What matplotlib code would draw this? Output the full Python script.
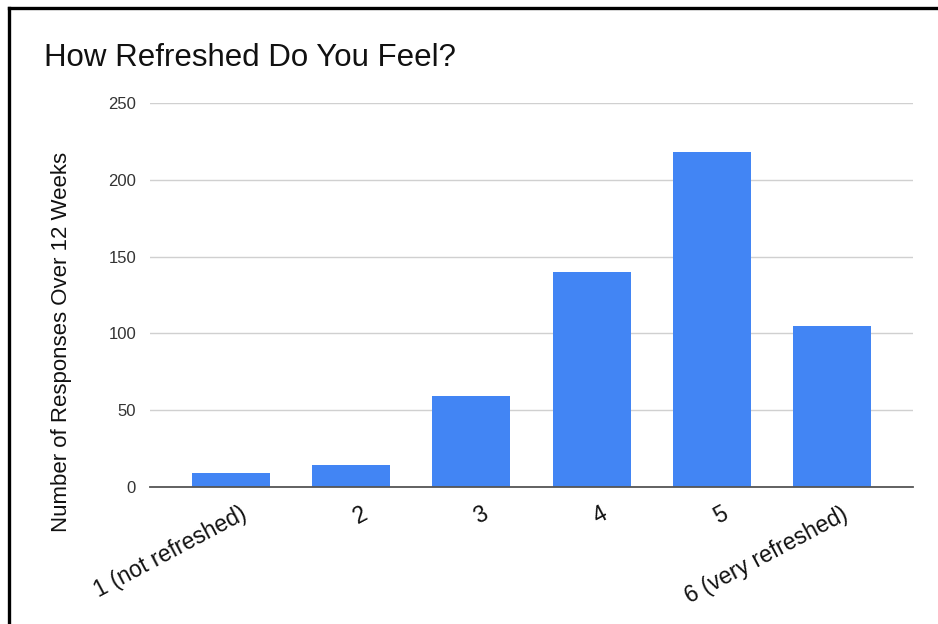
import matplotlib
matplotlib.use("Agg")
import matplotlib.pyplot as plt
import matplotlib.transforms as mtransforms
from matplotlib.lines import Line2D

plt.rcParams['font.family'] = ['Liberation Sans', 'DejaVu Sans']

categories = ["1 (not refreshed)", "2", "3", "4", "5", "6 (very refreshed)"]
responses = [9, 14, 59, 140, 218, 105]
y_ticks = [0, 50, 100, 150, 200, 250]

W, H = 938, 624
fig = plt.figure(figsize=(W / 100, H / 100), dpi=100)
fig.patch.set_facecolor("white")

# axes placement in pixels: left 150, right 913, bottom 487, top 103
left, right, bottom, top = 150, 913, 487, 103
ax = fig.add_axes([left / W, 1 - bottom / H, (right - left) / W, (bottom - top) / H])

x = list(range(len(categories)))
ax.bar(x, responses, width=0.65, color="#4285F4", zorder=3)

ax.set_xlim(-0.675, len(categories) - 0.325)
ax.set_ylim(0, 250)
ax.set_yticks(y_ticks)
ax.set_yticklabels([str(v) for v in y_ticks], fontsize=12, color="#333333")
ax.yaxis.grid(True, color="#d0d0d0", linewidth=1.0, zorder=0)
ax.set_axisbelow(True)

for side in ("top", "right", "left"):
    ax.spines[side].set_visible(False)
ax.spines["bottom"].set_color("#555555")
ax.spines["bottom"].set_linewidth(1.3)
ax.spines["bottom"].set_zorder(4)
ax.tick_params(axis="both", length=0)
ax.tick_params(axis="y", pad=10)

ax.set_xticks(x)
ax.set_xticklabels(categories, fontsize=16.5, rotation=28, ha="right",
                   va="top", rotation_mode="anchor", color="#111111")
ax.tick_params(axis="x", pad=11)
shift = mtransforms.ScaledTranslation(9 / 100, 0, fig.dpi_scale_trans)
for lbl in ax.get_xticklabels():
    lbl.set_transform(lbl.get_transform() + shift)

fig.text(62 / W, 1 - 342 / H, "Number of Responses Over 12 Weeks", fontsize=16,
         color="#111111", rotation=90, ha="center", va="center")

fig.text(44 / W, 1 - 58 / H, "How Refreshed Do You Feel?", fontsize=22.5,
         color="#111111", ha="left", va="center")

# black frame lines along the top and left edges
fig.add_artist(Line2D([9 / W, 1.0], [1 - 8 / H, 1 - 8 / H], color="black",
                      linewidth=2.4, transform=fig.transFigure))
fig.add_artist(Line2D([9 / W, 9 / W], [0, 1 - 8 / H], color="black",
                      linewidth=2.4, transform=fig.transFigure))

fig.savefig("out.png", dpi=100)
